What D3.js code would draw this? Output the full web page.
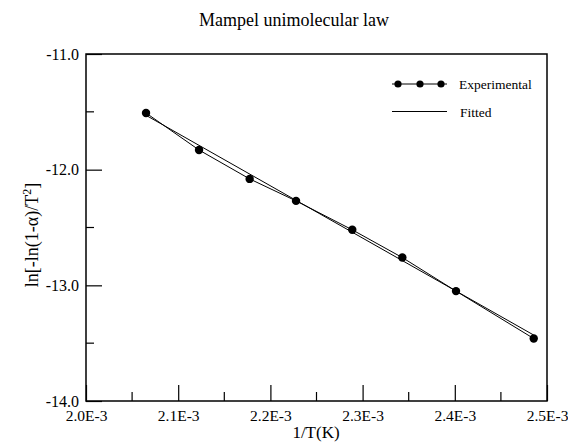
<!DOCTYPE html>
<html>
<head>
<meta charset="utf-8">
<script src="https://cdn.jsdelivr.net/npm/d3@7/dist/d3.min.js"></script>
<style>
  html, body { margin: 0; padding: 0; background: #fff; }
  svg { display: block; }
  svg text { font-family: 'Liberation Serif', 'Times New Roman', serif !important; fill: #000; }
</style>
</head>
<body>
<svg id="chart" width="568" height="442"></svg>
<script>
// Experimental points: inverse temperature vs ln[-ln(1-α)/T²]
const invT = [2.0651e-3, 2.1226e-3, 2.1775e-3, 2.2278e-3, 2.2888e-3, 2.3431e-3, 2.4013e-3, 2.4856e-3];
const experimental = [-11.51, -11.83, -12.08, -12.27, -12.52, -12.76, -13.05, -13.46];

// Fitted straight line (end points)
const fitInvT = [2.0651e-3, 2.4856e-3];
const fitted = [-11.53, -13.43];

const xTicks = [2.0e-3, 2.1e-3, 2.2e-3, 2.3e-3, 2.4e-3, 2.5e-3];
const xTickLabels = ["2.0E-3", "2.1E-3", "2.2E-3", "2.3E-3", "2.4E-3", "2.5E-3"];
const xMinorTicks = [2.05e-3, 2.15e-3, 2.25e-3, 2.35e-3, 2.45e-3];
const yTicks = [-11, -12, -13, -14];
const yTickLabels = ["-11.0", "-12.0", "-13.0", "-14.0"];
const yMinorTicks = [-11.5, -12.5, -13.5];

const seriesNames = ["Experimental", "Fitted"];

const svg = d3.select("#chart");
const m = { left: 86, right: 547, top: 54, bottom: 401 };

const x = d3.scaleLinear().domain([2.0e-3, 2.5e-3]).range([m.left, m.right]);
const y = d3.scaleLinear().domain([-14, -11]).range([m.bottom, m.top]);

// Title
svg.append("text")
  .attr("x", 294).attr("y", 26)
  .attr("text-anchor", "middle")
  .style("font-size", "18px")
  .text("Mampel unimolecular law");

// Bottom axis: inward ticks
const xAxis = svg.append("g").attr("transform", `translate(0,${m.bottom})`);
xAxis.call(d3.axisBottom(x).tickValues(xTicks).tickSizeInner(-16).tickSizeOuter(0)
  .tickFormat((d, i) => xTickLabels[i]));
xAxis.attr("font-family", null).attr("font-size", null);
xAxis.selectAll(".tick text").attr("y", 9).attr("dy", "0.71em")
  .style("font-size", "15.5px");
xAxis.call(g => g.select(".domain").remove());
xAxis.selectAll(".tick line").attr("stroke", "#000").attr("stroke-width", 1.2);
xAxis.selectAll(".minor").data(xMinorTicks).enter().append("line")
  .attr("class", "minor")
  .attr("x1", d => x(d)).attr("x2", d => x(d))
  .attr("y1", 0).attr("y2", -9)
  .attr("stroke", "#000").attr("stroke-width", 1.2);

// Left axis: inward ticks
const yAxis = svg.append("g").attr("transform", `translate(${m.left},0)`);
yAxis.call(d3.axisLeft(y).tickValues(yTicks).tickSizeInner(-16).tickSizeOuter(0)
  .tickFormat((d, i) => yTickLabels[i]));
yAxis.attr("font-family", null).attr("font-size", null);
yAxis.selectAll(".tick text").attr("x", -7)
  .style("font-size", "16px");
yAxis.call(g => g.select(".domain").remove());
yAxis.selectAll(".tick line").attr("stroke", "#000").attr("stroke-width", 1.2);
yAxis.selectAll(".minor").data(yMinorTicks).enter().append("line")
  .attr("class", "minor")
  .attr("x1", 0).attr("x2", 8)
  .attr("y1", d => y(d)).attr("y2", d => y(d))
  .attr("stroke", "#000").attr("stroke-width", 1.2);

// Frame
svg.append("rect")
  .attr("x", m.left).attr("y", m.top)
  .attr("width", m.right - m.left).attr("height", m.bottom - m.top)
  .attr("fill", "none").attr("stroke", "#000").attr("stroke-width", 1.5);

// Axis titles
svg.append("text")
  .attr("x", 316).attr("y", 438)
  .attr("text-anchor", "middle")
  .style("font-size", "17px")
  .text("1/T(K)");

const yLab = svg.append("text")
  .attr("transform", `translate(38,235) rotate(-90)`)
  .attr("text-anchor", "middle")
  .style("font-size", "18px");
yLab.append("tspan").text("ln[-ln(1-");
yLab.append("tspan").text("α");
yLab.append("tspan").text(")/T");
yLab.append("tspan").attr("dy", "-7").style("font-size", "12px").text("2");
yLab.append("tspan").attr("dy", "7").text("]");

const line = d3.line().x(d => x(d[0])).y(d => y(d[1]));

// Fitted line
svg.append("path")
  .datum(fitInvT.map((v, i) => [v, fitted[i]]))
  .attr("d", line)
  .attr("fill", "none").attr("stroke", "#000").attr("stroke-width", 1);

// Experimental series
const expData = invT.map((v, i) => [v, experimental[i]]);
svg.append("path")
  .datum(expData)
  .attr("d", line)
  .attr("fill", "none").attr("stroke", "#000").attr("stroke-width", 1);
svg.selectAll(".pt").data(expData).enter().append("circle")
  .attr("class", "pt")
  .attr("cx", d => x(d[0])).attr("cy", d => y(d[1]))
  .attr("r", 4.2).attr("fill", "#000");

// Legend
const lg = svg.append("g");
lg.append("line").attr("x1", 392).attr("x2", 447).attr("y1", 84).attr("y2", 84)
  .attr("stroke", "#000").attr("stroke-width", 1);
lg.selectAll("circle").data([398, 420, 441]).enter().append("circle")
  .attr("cx", d => d).attr("cy", 84).attr("r", 3.6).attr("fill", "#000");
lg.append("text").attr("x", 459).attr("y", 89).style("font-size", "13.5px").text(seriesNames[0]);
lg.append("line").attr("x1", 392).attr("x2", 447).attr("y1", 111.5).attr("y2", 111.5)
  .attr("stroke", "#000").attr("stroke-width", 1);
lg.append("text").attr("x", 460).attr("y", 116.5).style("font-size", "13.5px").text(seriesNames[1]);
</script>
</body>
</html>
